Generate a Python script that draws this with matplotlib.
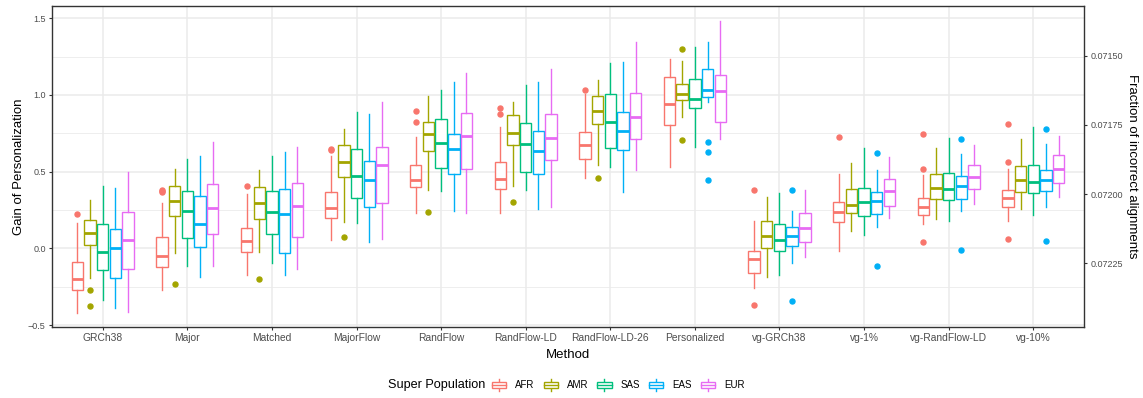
import matplotlib
matplotlib.use("Agg")
import matplotlib.pyplot as plt
from matplotlib.legend_handler import HandlerBase
from matplotlib.patches import Patch, Rectangle
from matplotlib.lines import Line2D

plt.rcParams['font.family'] = ['Liberation Sans', 'DejaVu Sans']

methods = ["GRCh38", "Major", "Matched", "MajorFlow", "RandFlow", "RandFlow-LD",
           "RandFlow-LD-26", "Personalized", "vg-GRCh38", "vg-1%", "vg-RandFlow-LD", "vg-10%"]
pops = ["AFR", "AMR", "SAS", "EAS", "EUR"]
colors = ["#F8766D", "#A3A500", "#00BF7D", "#00B0F6", "#E76BF3"]

# per population: whisker low, q1, median, q3, whisker high (one per method)
afr_lo = [-0.42, -0.272, -0.172, 0.052, 0.233, 0.233, 0.457, 0.528, -0.261, -0.015, 0.157, 0.178]
afr_q1 = [-0.272, -0.12, -0.022, 0.2, 0.4, 0.387, 0.585, 0.807, -0.159, 0.17, 0.217, 0.267]
afr_med = [-0.202, -0.052, 0.048, 0.261, 0.446, 0.452, 0.674, 0.941, -0.07, 0.237, 0.267, 0.33]
afr_q3 = [-0.089, 0.072, 0.135, 0.365, 0.541, 0.561, 0.761, 1.12, -0.015, 0.3, 0.326, 0.383]
afr_hi = [0.163, 0.293, 0.352, 0.602, 0.726, 0.791, 1.004, 1.235, 0.178, 0.487, 0.48, 0.52]
afr_out = [[0.224], [0.37, 0.376, 0.38], [0.409], [0.65, 0.64], [0.896, 0.822], [0.913, 0.876],
           [1.03], [], [0.38, -0.372], [0.724], [0.746, 0.517, 0.039], [0.811, 0.563, 0.061]]

amr_lo = [-0.196, -0.033, -0.022, 0.174, 0.378, 0.409, 0.543, 0.859, -0.189, 0.111, 0.189, 0.257]
amr_q1 = [0.022, 0.209, 0.189, 0.463, 0.635, 0.674, 0.813, 0.967, 0.0, 0.228, 0.322, 0.365]
amr_med = [0.098, 0.311, 0.293, 0.565, 0.746, 0.754, 0.898, 1.009, 0.08, 0.283, 0.393, 0.446]
amr_q3 = [0.185, 0.409, 0.398, 0.672, 0.826, 0.87, 0.996, 1.074, 0.178, 0.385, 0.485, 0.535]
amr_hi = [0.315, 0.52, 0.511, 0.78, 0.991, 0.957, 1.096, 1.222, 0.333, 0.554, 0.654, 0.713]
amr_out = [[-0.274, -0.374], [-0.23], [-0.2], [0.074], [0.237], [0.3], [0.457], [1.298, 0.709],
           [], [], [], []]

sas_lo = [-0.337, -0.115, -0.098, 0.167, 0.374, 0.38, 0.533, 0.659, -0.174, 0.085, 0.176, 0.215]
sas_q1 = [-0.141, 0.07, 0.091, 0.326, 0.522, 0.5, 0.657, 0.913, -0.015, 0.211, 0.317, 0.363]
sas_med = [-0.022, 0.246, 0.239, 0.474, 0.689, 0.68, 0.826, 0.972, 0.057, 0.304, 0.387, 0.435]
sas_q3 = [0.157, 0.376, 0.376, 0.648, 0.843, 0.815, 1.009, 1.102, 0.157, 0.396, 0.493, 0.541]
sas_hi = [0.409, 0.58, 0.602, 0.887, 1.035, 1.063, 1.211, 1.311, 0.361, 0.657, 0.722, 0.789]
sas_out = [[] for _ in range(12)]

eas_lo = [-0.389, -0.187, -0.172, 0.043, 0.243, 0.254, 0.367, 0.952, -0.098, 0.139, 0.241, 0.272]
eas_q1 = [-0.196, 0.011, -0.028, 0.272, 0.487, 0.483, 0.639, 0.985, 0.017, 0.226, 0.324, 0.374]
eas_med = [0.002, 0.161, 0.226, 0.448, 0.648, 0.637, 0.765, 1.03, 0.08, 0.309, 0.409, 0.446]
eas_q3 = [0.128, 0.343, 0.385, 0.572, 0.746, 0.763, 0.891, 1.172, 0.141, 0.365, 0.47, 0.509]
eas_hi = [0.396, 0.6, 0.628, 0.876, 1.083, 1.087, 1.217, 1.343, 0.243, 0.511, 0.615, 0.68]
eas_out = [[], [], [], [], [], [], [], [0.696, 0.63, 0.443], [0.38, -0.343], [0.622, -0.113],
           [0.713, -0.013], [0.776, 0.046]]

eur_lo = [-0.413, -0.113, -0.137, 0.059, 0.228, 0.267, 0.513, 0.711, -0.054, 0.2, 0.287, 0.333]
eur_q1 = [-0.137, 0.093, 0.072, 0.296, 0.515, 0.574, 0.715, 0.822, 0.039, 0.274, 0.389, 0.424]
eur_med = [0.057, 0.263, 0.276, 0.546, 0.733, 0.72, 0.859, 1.028, 0.135, 0.372, 0.465, 0.517]
eur_q3 = [0.239, 0.417, 0.428, 0.663, 0.88, 0.878, 1.015, 1.128, 0.228, 0.45, 0.541, 0.607]
eur_hi = [0.496, 0.696, 0.661, 0.957, 1.141, 1.167, 1.343, 1.483, 0.378, 0.596, 0.676, 0.733]
eur_out = [[] for _ in range(12)]

left_ticks = [-0.5, 0.0, 0.5, 1.0, 1.5]
right_ticks = [0.07150, 0.07175, 0.07200, 0.07225]

table = {
    "AFR": (afr_lo, afr_q1, afr_med, afr_q3, afr_hi, afr_out),
    "AMR": (amr_lo, amr_q1, amr_med, amr_q3, amr_hi, amr_out),
    "SAS": (sas_lo, sas_q1, sas_med, sas_q3, sas_hi, sas_out),
    "EAS": (eas_lo, eas_q1, eas_med, eas_q3, eas_hi, eas_out),
    "EUR": (eur_lo, eur_q1, eur_med, eur_q3, eur_hi, eur_out),
}


# gain -> fraction of incorrect alignments (sec axis, decreasing)
def to_frac(v):
    return 0.072 + (0.354 - v) / 1800.4


def to_gain(r):
    return 0.354 - 1800.4 * (r - 0.072)


fig = plt.figure(figsize=(11.43, 3.98), dpi=100)
ax = fig.add_axes([52 / 1143, 1 - 327 / 398, (1084 - 52) / 1143, (327 - 6) / 398])

lw = 1.0
for k, p in enumerate(pops):
    lo, q1, med, q3, hi, out = table[p]
    stats = []
    for i in range(len(methods)):
        stats.append({"whislo": lo[i], "q1": q1[i], "med": med[i], "q3": q3[i],
                      "whishi": hi[i], "fliers": out[i]})
    pos = [i + 1 + (k - 2) * 0.15 for i in range(len(methods))]
    c = colors[k]
    ax.bxp(stats, positions=pos, widths=0.135, showcaps=False, patch_artist=True,
           boxprops=dict(facecolor="white", edgecolor=c, linewidth=lw),
           whiskerprops=dict(color=c, linewidth=lw),
           medianprops=dict(color=c, linewidth=2.0, solid_capstyle="butt"),
           flierprops=dict(marker="o", markerfacecolor=c, markeredgecolor=c, markersize=3.6),
           manage_ticks=False, zorder=3)

ax.set_xlim(0.4, 12.6)
ax.set_ylim(-0.513, 1.58)
ax.set_xticks(range(1, 13))
ax.set_xticklabels(methods)
ax.set_yticks(left_ticks)
ax.set_yticklabels(["\u22120.5", "0.0", "0.5", "1.0", "1.5"])
ax.set_yticks([-0.25, 0.25, 0.75, 1.25], minor=True)
ax.grid(True, which="major", color="#EBEBEB", linewidth=1.1, zorder=0)
ax.grid(True, which="minor", axis="y", color="#EBEBEB", linewidth=0.6, zorder=0)
ax.set_axisbelow(True)
ax.tick_params(which="major", length=2.5, width=0.8, color="#333333", labelcolor="#4D4D4D", pad=2)
ax.tick_params(axis="x", labelsize=7.4)
ax.tick_params(axis="y", labelsize=6.5)
ax.tick_params(which="minor", length=0)
for s in ax.spines.values():
    s.set_color("#333333")
    s.set_linewidth(1.0)
ax.set_xlabel("Method", fontsize=9.5, labelpad=4)
ax.set_ylabel("Gain of Personalization", fontsize=9.5, va="center")
ax.yaxis.set_label_coords((19 - 52) / 1032, 0.5)

sec = ax.secondary_yaxis("right", functions=(to_frac, to_gain))
sec.set_yticks(right_ticks)
sec.set_yticklabels(["%.5f" % t for t in right_ticks])
sec.tick_params(length=2.5, width=0.8, color="#333333", labelsize=6.5, labelcolor="#4D4D4D", pad=2)
sec.spines["right"].set_visible(False)
fig.text(1132 / 1143, 1 - 166.5 / 398, "Fraction of incorrect alignments", fontsize=9.5,
         rotation=-90, ha="center", va="center")


class BoxKey(HandlerBase):
    def create_artists(self, legend, orig_handle, xdescent, ydescent, width, height, fontsize, trans):
        c = orig_handle.get_edgecolor()
        x0, y0 = -xdescent, -ydescent
        w, h = width, height
        bx = x0 + w * 0.06
        bw = w * 0.88
        rect = Rectangle((bx, y0 + h * 0.22), bw, h * 0.56, facecolor="white", edgecolor=c,
                         linewidth=lw, transform=trans)
        med = Line2D([bx, bx + bw], [y0 + h * 0.5] * 2, color=c, linewidth=lw, transform=trans)
        w1 = Line2D([x0 + w / 2] * 2, [y0 + h * 0.78, y0 + h], color=c, linewidth=lw, transform=trans)
        w2 = Line2D([x0 + w / 2] * 2, [y0, y0 + h * 0.22], color=c, linewidth=lw, transform=trans)
        return [w1, w2, rect, med]


handles = [Patch(edgecolor=c, facecolor="white") for c in colors]
fig.text(388 / 1143, 1 - 385 / 398, "Super Population", fontsize=9.1, va="center", ha="left")
fig.legend(handles, pops, handler_map={Patch: BoxKey()}, ncol=5, frameon=False,
           loc="center left", bbox_to_anchor=(491 / 1143, 1 - 385 / 398), fontsize=7,
           handlelength=1.65, handleheight=1.4, handletextpad=0.82, columnspacing=0.85,
           borderpad=0, borderaxespad=0)

fig.savefig("out.png", dpi=100)
